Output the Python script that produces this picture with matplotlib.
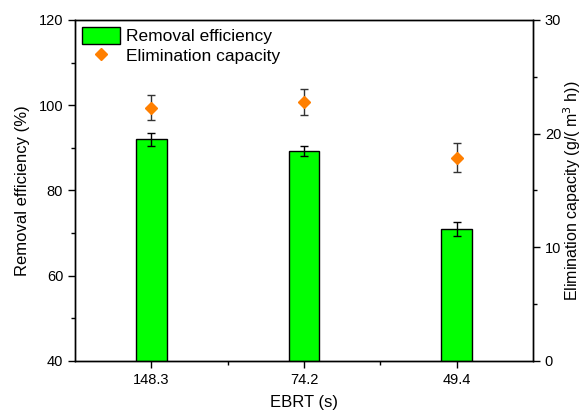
"""Removal efficiency (bars) and elimination capacity (points) versus EBRT."""

import numpy as np
import matplotlib.pyplot as plt
from matplotlib.ticker import MultipleLocator, FixedLocator

plt.rcParams['font.family'] = ['Liberation Sans', 'DejaVu Sans']

#%% Data

ebrt_labels = ['148.3', '74.2', '49.4']
removal_eff = [92.0, 89.2, 71.0]        # %
removal_err = [1.5, 1.2, 1.6]
elim_cap = [22.3, 22.8, 17.9]           # g/(m3 h)
elim_err = [1.1, 1.15, 1.3]

#%% Figure

fig = plt.figure(figsize=(5.82, 4.12), dpi=100)
ax = fig.add_axes([0.1289, 0.1238, 0.7869, 0.8277])
ax2 = ax.twinx()

x = np.arange(1, len(ebrt_labels) + 1)

bars = ax.bar(x, removal_eff, width=0.2, color='#00ff00', edgecolor='black',
              linewidth=1.0, label='Removal efficiency', zorder=2)
ax.errorbar(x, removal_eff, yerr=removal_err, fmt='none', ecolor='black',
            elinewidth=1.0, capsize=3, capthick=1.0, zorder=3)

ax2.errorbar(x, elim_cap, yerr=elim_err, fmt='none', ecolor='#333333',
             elinewidth=1.0, capsize=3, capthick=1.0, zorder=3)
pts, = ax2.plot(x, elim_cap, linestyle='none', marker='D', markersize=6,
                color='#ff7f00', label='Elimination capacity', zorder=4)

# left axis
ax.set_xlim(0.5, 3.5)
ax.set_ylim(40, 120)
ax.yaxis.set_major_locator(MultipleLocator(20))
ax.yaxis.set_minor_locator(MultipleLocator(10))
ax.set_xticks(x)
ax.set_xticklabels(ebrt_labels)
ax.xaxis.set_minor_locator(FixedLocator([1.5, 2.5]))
ax.set_xlabel('EBRT (s)', fontsize=12, labelpad=6)
ax.set_ylabel('Removal efficiency (%)', fontsize=12, labelpad=6)

# right axis
ax2.set_ylim(0, 30)
ax2.yaxis.set_major_locator(MultipleLocator(10))
ax2.yaxis.set_minor_locator(MultipleLocator(5))
ax2.set_ylabel('Elimination capacity (g/( m$^3$ h))', fontsize=11.5,
               labelpad=0)

for a in (ax, ax2):
    a.tick_params(which='major', direction='out', length=5, width=1.0,
                  labelsize=10.5, colors='black')
    a.tick_params(which='minor', direction='out', length=3, width=1.0)
    for s in a.spines.values():
        s.set_linewidth(1.0)
ax.tick_params(axis='x', which='both', top=False)

ax.legend([bars, pts], ['Removal efficiency', 'Elimination capacity'],
          loc='upper left', frameon=False, fontsize=12.5,
          borderpad=0.0, borderaxespad=0.4, handlelength=2.2,
          handleheight=1.1, handletextpad=0.35, labelspacing=0.15)

fig.savefig('out.png', dpi=100)
